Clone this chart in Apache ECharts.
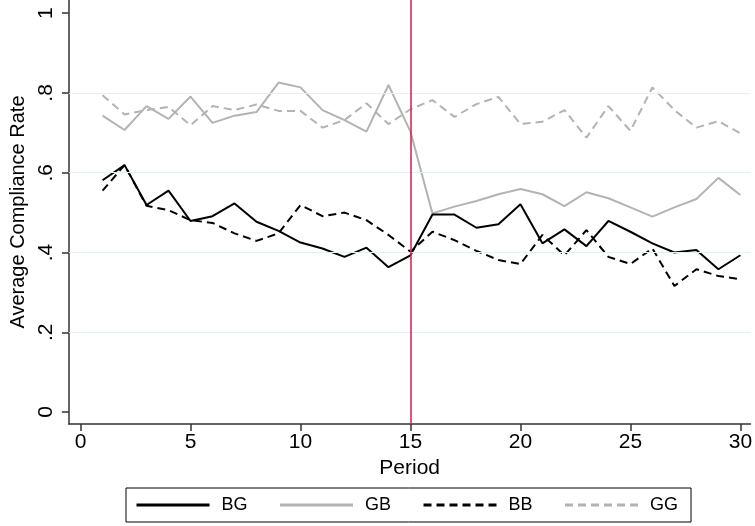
<!DOCTYPE html>
<html>
<head>
<meta charset="utf-8">
<script src="https://cdn.jsdelivr.net/npm/echarts@6/dist/echarts.min.js"></script>
<style>html,body{margin:0;padding:0;background:#fff;}#c{width:755px;height:526px;}</style>
</head>
<body>
<div id="c"></div>
<script>
var periods = [1,2,3,4,5,6,7,8,9,10,11,12,13,14,15,16,17,18,19,20,21,22,23,24,25,26,27,28,29,30];
var BG = [0.581,0.619,0.519,0.555,0.479,0.491,0.523,0.477,0.454,0.425,0.410,0.389,0.412,0.363,0.393,
          0.495,0.495,0.462,0.471,0.521,0.423,0.458,0.416,0.479,0.452,0.423,0.400,0.406,0.358,0.393];
var GB = [0.743,0.707,0.767,0.735,0.791,0.725,0.743,0.752,0.826,0.814,0.757,0.732,0.703,0.820,0.703,
          0.498,0.515,0.529,0.546,0.559,0.546,0.516,0.551,0.536,0.513,0.490,0.513,0.534,0.587,0.544];
var BB = [0.555,0.619,0.517,0.506,0.481,0.474,0.448,0.429,0.448,0.519,0.491,0.500,0.481,0.444,0.402,
          0.452,0.431,0.404,0.381,0.371,0.444,0.393,0.456,0.389,0.371,0.410,0.316,0.358,0.341,0.333];
var GG = [0.794,0.746,0.757,0.765,0.719,0.767,0.757,0.771,0.755,0.755,0.713,0.732,0.774,0.722,0.759,
          0.782,0.740,0.772,0.790,0.722,0.728,0.757,0.688,0.767,0.705,0.814,0.757,0.713,0.729,0.699];
var xTicks = [0,5,10,15,20,25,30];
var yTicks = [0,0.2,0.4,0.6,0.8,1];
var gridValues = [0.2,0.4,0.6,0.8];
var treatmentPeriod = 15;

function pairs(arr){ return arr.map(function(v,i){ return [periods[i], v]; }); }
function yFmt(v){ if (v === 0) return '0'; if (v === 1) return '1'; return String(Math.round(v*10)/10).replace(/^0/, ''); }

var NARROW = '"Liberation Sans Narrow", "Liberation Sans", Arial, sans-serif';
var REG = '"Liberation Sans", Arial, sans-serif';
var black = '#000000', gray = '#b3b3b3';

var chart = echarts.init(document.getElementById('c'), null, {renderer:'canvas'});
chart.setOption({
  animation: false,
  backgroundColor: '#ffffff',
  textStyle: {fontFamily: REG},
  grid: {left: 65, right: 2, top: 0, bottom: 102, containLabel: false},
  legend: {
    left: 126, top: 488,
    orient: 'horizontal',
    data: ['BG','GB','BB','GG'],
    itemWidth: 73, itemHeight: 14, itemGap: 31,
    padding: [8, 13, 8, 9],
    borderColor: '#000', borderWidth: 1,
    textStyle: {fontFamily: NARROW, fontSize: 18, color: '#000', padding: [0,0,0,7]},
    lineStyle: {width: 3},
    itemStyle: {opacity: 0}
  },
  xAxis: {
    type: 'value', min: -0.53, max: 30.46,
    name: 'Period', nameLocation: 'middle', nameGap: 31,
    nameTextStyle: {fontFamily: NARROW, fontSize: 21, color: '#000'},
    axisLine: {show: true, onZero: false, lineStyle: {color: '#333', width: 1.5}},
    axisTick: {show: true, length: 7, lineStyle: {color: '#333', width: 1.5}, customValues: xTicks},
    axisLabel: {fontFamily: NARROW, fontSize: 21, color: '#000', margin: 8, customValues: xTicks},
    splitLine: {show: false}
  },
  yAxis: {
    type: 'value', min: -0.03, max: 1.033,
    name: 'Average Compliance Rate', nameLocation: 'middle', nameGap: 32,
    nameTextStyle: {fontFamily: REG, fontSize: 20, color: '#000'},
    axisLine: {show: true, onZero: false, lineStyle: {color: '#333', width: 1.5}},
    axisTick: {show: true, length: 7, lineStyle: {color: '#333', width: 1.5}, customValues: yTicks},
    axisLabel: {fontFamily: REG, fontSize: 21, color: '#000', rotate: 90, margin: 12, customValues: yTicks, formatter: yFmt},
    splitLine: {show: false}
  },
  series: [
    {
      name: 'grid', type: 'line', data: [], silent: true, legendHoverLink: false,
      markLine: {
        silent: true, symbol: ['none','none'], label: {show: false},
        lineStyle: {color: '#e6eff1', width: 1.2, type: 'solid'},
        data: gridValues.map(function(v){ return {yAxis: v}; })
      }
    },
    {name: 'GG', type: 'line', data: pairs(GG), symbol: 'none', color: gray,
      lineStyle: {color: gray, width: 2, type: [8,5]}},
    {name: 'GB', type: 'line', data: pairs(GB), symbol: 'none', color: gray,
      lineStyle: {color: gray, width: 2, type: 'solid'}},
    {name: 'BB', type: 'line', data: pairs(BB), symbol: 'none', color: black,
      lineStyle: {color: black, width: 2, type: [8,5]}},
    {name: 'BG', type: 'line', data: pairs(BG), symbol: 'none', color: black,
      lineStyle: {color: black, width: 2, type: 'solid'},
      markLine: {
        silent: true, symbol: ['none','none'], label: {show: false},
        lineStyle: {color: '#d42a58', width: 1.6, type: 'solid'},
        data: [{xAxis: treatmentPeriod}]
      }
    }
  ]
});
</script>
</body>
</html>
